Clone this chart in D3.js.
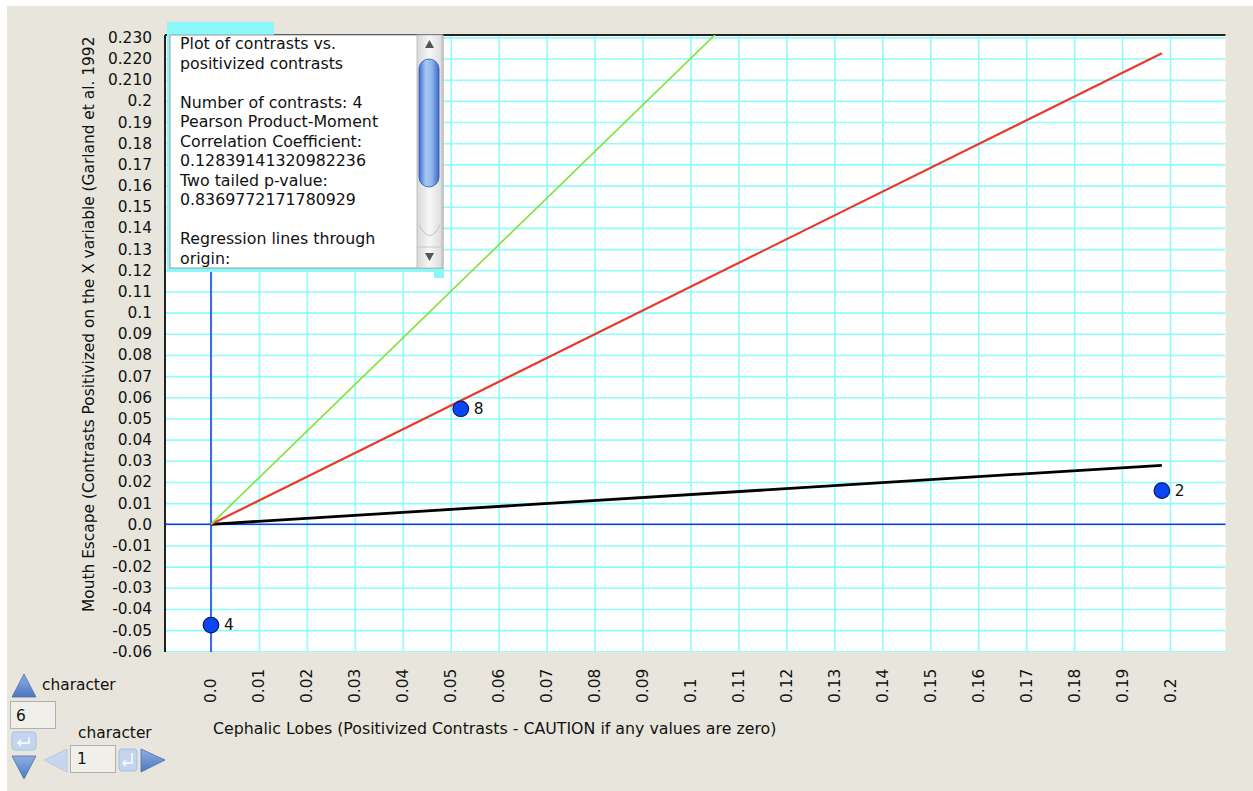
<!DOCTYPE html>
<html>
<head>
<meta charset="utf-8">
<script src="https://cdn.jsdelivr.net/npm/d3@7"></script>
<style>
  html, body { margin: 0; padding: 0; background: #ffffff; }
  svg { display: block; }
  text { font-family: "DejaVu Sans", "Liberation Sans", sans-serif; fill: #111; }
</style>
</head>
<body>
<script>
// ---- data -------------------------------------------------------------
const xTickValues = [0, 0.01, 0.02, 0.03, 0.04, 0.05, 0.06, 0.07, 0.08, 0.09, 0.1,
                     0.11, 0.12, 0.13, 0.14, 0.15, 0.16, 0.17, 0.18, 0.19, 0.2];
const xTickLabels = ["0.0", "0.01", "0.02", "0.03", "0.04", "0.05", "0.06", "0.07", "0.08", "0.09", "0.1",
                     "0.11", "0.12", "0.13", "0.14", "0.15", "0.16", "0.17", "0.18", "0.19", "0.2"];
const yTickValues = [-0.06, -0.05, -0.04, -0.03, -0.02, -0.01, 0, 0.01, 0.02, 0.03, 0.04, 0.05,
                     0.06, 0.07, 0.08, 0.09, 0.1, 0.11, 0.12, 0.13, 0.14, 0.15, 0.16, 0.17,
                     0.18, 0.19, 0.2, 0.21, 0.22, 0.23];
const yTickLabels = ["-0.06", "-0.05", "-0.04", "-0.03", "-0.02", "-0.01", "0.0", "0.01", "0.02", "0.03", "0.04", "0.05",
                     "0.06", "0.07", "0.08", "0.09", "0.1", "0.11", "0.12", "0.13", "0.14", "0.15", "0.16", "0.17",
                     "0.18", "0.19", "0.2", "0.210", "0.220", "0.230"];

// positivized contrasts (x) vs contrasts (y), labelled by node
const pointX = [0, 0.0521, 0.1983];
const pointY = [-0.0476, 0.0545, 0.0159];
const pointLabels = ["4", "8", "2"];

// regression lines through the origin
const lineSlopes = [0.1406, 1.122, 2.2];
const lineColors = ["#000000", "#e8392c", "#7fe33a"];
const lineWidths = [2.8, 2.2, 1.6];
const lineEndX = 0.1983;

const xTitle = "Cephalic Lobes (Positivized Contrasts - CAUTION if any values are zero)";
const yTitle = "Mouth Escape (Contrasts Positivized on the X variable (Garland et al. 1992)";

const infoLines = [
  "Plot of contrasts vs.",
  "positivized contrasts",
  "",
  "Number of contrasts: 4",
  "Pearson Product-Moment",
  "Correlation Coefficient:",
  "0.12839141320982236",
  "Two tailed p-value:",
  "0.8369772171780929",
  "",
  "Regression lines through",
  "origin:",
  "   Black is ordinary least squares"
];

// ---- layout -------------------------------------------------------------
const W = 1253, H = 791;
const plot = { left: 165, right: 1225.5, top: 35, bottom: 652 };
const FS_TICK = 15.4, FS_TEXT = 15.8;

const svg = d3.select("body").append("svg").attr("width", W).attr("height", H);

// window background
svg.append("rect").attr("x", 0).attr("y", 0).attr("width", W).attr("height", H).attr("fill", "#ffffff");
svg.append("rect").attr("x", 7).attr("y", 6).attr("width", W - 7).attr("height", H - 6).attr("fill", "#e8e6dc");

const x = d3.scaleLinear().domain([-0.00959, 0.21157]).range([plot.left, plot.right]);
const y = d3.scaleLinear().domain([-0.06032, 0.23113]).range([plot.bottom, plot.top]);

const defs = svg.append("defs");
defs.append("clipPath").attr("id", "plotClip")
  .append("rect").attr("x", plot.left).attr("y", plot.top)
  .attr("width", plot.right - plot.left).attr("height", plot.bottom - plot.top);

// plot background
svg.append("rect").attr("x", plot.left).attr("y", plot.top)
  .attr("width", plot.right - plot.left).attr("height", plot.bottom - plot.top)
  .attr("fill", "#ffffff");

// grid
const grid = svg.append("g").attr("clip-path", "url(#plotClip)");
grid.append("g")
  .attr("transform", `translate(0,${plot.top})`)
  .call(d3.axisBottom(x).tickValues(xTickValues).tickSize(plot.bottom - plot.top).tickFormat(""))
  .call(g => g.select(".domain").remove())
  .call(g => g.selectAll("line").attr("stroke", "#8ffcfc").attr("stroke-width", 1.6));
grid.append("g")
  .attr("transform", `translate(${plot.left},0)`)
  .call(d3.axisRight(y).tickValues(yTickValues).tickSize(plot.right - plot.left).tickFormat(""))
  .call(g => g.select(".domain").remove())
  .call(g => g.selectAll("line").attr("stroke", "#8ffcfc").attr("stroke-width", 1.6));

// zero axes in blue
svg.append("line").attr("x1", plot.left).attr("x2", plot.right)
  .attr("y1", y(0)).attr("y2", y(0)).attr("stroke", "#1638e8").attr("stroke-width", 1.5);
svg.append("line").attr("x1", x(0)).attr("x2", x(0))
  .attr("y1", plot.top).attr("y2", plot.bottom).attr("stroke", "#1638e8").attr("stroke-width", 1.5);

// frame: left and top edges
svg.append("line").attr("x1", plot.left).attr("x2", plot.left)
  .attr("y1", plot.top).attr("y2", plot.bottom).attr("stroke", "#222").attr("stroke-width", 2);
svg.append("line").attr("x1", plot.left).attr("x2", plot.right)
  .attr("y1", plot.top).attr("y2", plot.top).attr("stroke", "#222").attr("stroke-width", 2);

// y axis labels
svg.append("g")
  .attr("transform", `translate(${plot.left},0)`)
  .call(d3.axisLeft(y).tickValues(yTickValues).tickSize(0).tickPadding(13)
    .tickFormat((d, i) => yTickLabels[i]))
  .call(g => g.select(".domain").remove())
  .call(g => g.selectAll("text").attr("font-size", FS_TICK).attr("font-family", "DejaVu Sans").attr("fill", "#111"));

// x axis labels, rotated
svg.append("g")
  .attr("transform", `translate(0,${plot.bottom})`)
  .call(d3.axisBottom(x).tickValues(xTickValues).tickSize(0).tickFormat((d, i) => xTickLabels[i]))
  .call(g => g.select(".domain").remove())
  .call(g => g.selectAll("text")
    .attr("font-size", FS_TICK).attr("font-family", "DejaVu Sans").attr("fill", "#111")
    .attr("text-anchor", "start")
    .attr("y", 0).attr("dy", 0)
    .attr("transform", "translate(5,51) rotate(-90)"));

// regression lines
const lines = svg.append("g").attr("clip-path", "url(#plotClip)");
lineSlopes.forEach((s, i) => {
  lines.append("line")
    .attr("x1", x(0)).attr("y1", y(0))
    .attr("x2", x(lineEndX)).attr("y2", y(s * lineEndX))
    .attr("stroke", lineColors[i]).attr("stroke-width", lineWidths[i]);
});

// points
const pts = svg.append("g");
pointX.forEach((px, i) => {
  pts.append("circle").attr("cx", x(px)).attr("cy", y(pointY[i])).attr("r", 7.8)
    .attr("fill", "#0a46f5").attr("stroke", "#0b1a5a").attr("stroke-width", 1.2);
  pts.append("text").attr("x", x(px) + 13).attr("y", y(pointY[i]) + 5)
    .attr("font-size", FS_TICK).text(pointLabels[i]);
});

// axis titles
svg.append("text").attr("x", 213).attr("y", 734).attr("font-size", FS_TEXT).text(xTitle);
defs.append("clipPath").attr("id", "yTitleClip")
  .append("rect").attr("x", 60).attr("y", plot.top).attr("width", 50).attr("height", 700);
svg.append("g").attr("clip-path", "url(#yTitleClip)")
  .append("text").attr("transform", "translate(94,612) rotate(-90)").attr("font-size", 15.4).text(yTitle);

// ---- information panel --------------------------------------------------
const box = { x: 170, y: 35, w: 273, h: 233 };
svg.append("rect").attr("x", 167).attr("y", 22).attr("width", 107).attr("height", 14).attr("fill", "#8af8f8");
svg.append("rect").attr("x", 167).attr("y", 22).attr("width", 3).attr("height", 250).attr("fill", "#8af8f8");
svg.append("rect").attr("x", 167).attr("y", 268).attr("width", 276).attr("height", 4).attr("fill", "#8af8f8");
svg.append("rect").attr("x", 434).attr("y", 268).attr("width", 10).attr("height", 10).attr("fill", "#8af8f8");
svg.append("rect").attr("x", box.x).attr("y", box.y).attr("width", box.w).attr("height", box.h)
  .attr("fill", "#ffffff").attr("stroke", "#9a9a9a").attr("stroke-width", 1);

defs.append("clipPath").attr("id", "boxClip")
  .append("rect").attr("x", box.x).attr("y", box.y + 1).attr("width", 246).attr("height", box.h - 2);
const tg = svg.append("g").attr("clip-path", "url(#boxClip)");
infoLines.forEach((t, i) => {
  tg.append("text").attr("x", 180).attr("y", 49 + i * 19.5).attr("font-size", FS_TEXT)
    .attr("xml:space", "preserve").text(t);
});

// scrollbar
const sbGrad = defs.append("linearGradient").attr("id", "sbTrack").attr("x1", 0).attr("x2", 1);
sbGrad.append("stop").attr("offset", 0).attr("stop-color", "#d8d8d8");
sbGrad.append("stop").attr("offset", 0.5).attr("stop-color", "#f7f7f7");
sbGrad.append("stop").attr("offset", 1).attr("stop-color", "#dcdcdc");
const thGrad = defs.append("linearGradient").attr("id", "sbThumb").attr("x1", 0).attr("x2", 1);
thGrad.append("stop").attr("offset", 0).attr("stop-color", "#3c6fd0");
thGrad.append("stop").attr("offset", 0.35).attr("stop-color", "#a9c8f2");
thGrad.append("stop").attr("offset", 0.65).attr("stop-color", "#8db4ec");
thGrad.append("stop").attr("offset", 1).attr("stop-color", "#3a68c8");
svg.append("rect").attr("x", 417).attr("y", 35).attr("width", 25).attr("height", 233)
  .attr("fill", "url(#sbTrack)").attr("stroke", "#b5b5b5").attr("stroke-width", 0.8);
svg.append("path").attr("d", "M429.5,40 L434,48 L425,48 Z").attr("fill", "#555");
svg.append("path").attr("d", "M429.5,261 L434,253 L425,253 Z").attr("fill", "#555");
svg.append("rect").attr("x", 419).attr("y", 59).attr("width", 20).attr("height", 128).attr("rx", 10)
  .attr("fill", "url(#sbThumb)").attr("stroke", "#2a55b0").attr("stroke-width", 0.8);
svg.append("path").attr("d", "M419,225 Q429.5,246 440,225").attr("fill", "none").attr("stroke", "#c2c2c2").attr("stroke-width", 1);
svg.append("line").attr("x1", 417).attr("x2", 442).attr("y1", 247).attr("y2", 247).attr("stroke", "#c8c8c8");

// ---- navigation controls -----------------------------------------------
const btnGrad = defs.append("linearGradient").attr("id", "btnBlue").attr("x1", 0).attr("x2", 0).attr("y1", 0).attr("y2", 1);
btnGrad.append("stop").attr("offset", 0).attr("stop-color", "#8eb0e0");
btnGrad.append("stop").attr("offset", 1).attr("stop-color", "#4c78bf");
const ctl = svg.append("g");
ctl.append("path").attr("d", "M24,674 L36,697 L12,697 Z").attr("fill", "url(#btnBlue)").attr("stroke", "#4a6fae").attr("stroke-width", 0.8);
ctl.append("text").attr("x", 42).attr("y", 690).attr("font-size", FS_TICK).text("character");
ctl.append("rect").attr("x", 10.5).attr("y", 701.5).attr("width", 45).attr("height", 27).attr("fill", "#f0efea").attr("stroke", "#b0b0b0");
ctl.append("text").attr("x", 16).attr("y", 721).attr("font-size", FS_TICK).text("6");
ctl.append("rect").attr("x", 12).attr("y", 732).attr("width", 24).attr("height", 18).attr("rx", 3).attr("fill", "#c3d4ee").attr("stroke", "#a9bede");
ctl.append("path").attr("d", "M29,737 L29,743 L18,743 M21,740 L18,743 L21,746").attr("fill", "none").attr("stroke", "#fff").attr("stroke-width", 1.4);
ctl.append("path").attr("d", "M12,756 L36,756 L24,779 Z").attr("fill", "url(#btnBlue)").attr("stroke", "#4a6fae").attr("stroke-width", 0.8);
ctl.append("text").attr("x", 78).attr("y", 738).attr("font-size", FS_TICK).text("character");
ctl.append("path").attr("d", "M44,760 L67,749 L67,772 Z").attr("fill", "#c6d6ee").attr("stroke", "#b2c4e2").attr("stroke-width", 0.8);
ctl.append("rect").attr("x", 70.5).attr("y", 745.5).attr("width", 45).attr("height", 27).attr("fill", "#f0efea").attr("stroke", "#b0b0b0");
ctl.append("text").attr("x", 77).attr("y", 764).attr("font-size", FS_TICK).text("1");
ctl.append("rect").attr("x", 119).attr("y", 749).attr("width", 18).attr("height", 22).attr("rx", 3).attr("fill", "#c3d4ee").attr("stroke", "#a9bede");
ctl.append("path").attr("d", "M132,753 L132,763 L123,763 M126,760 L123,763 L126,766").attr("fill", "none").attr("stroke", "#fff").attr("stroke-width", 1.4);
ctl.append("path").attr("d", "M141,749 L165,760 L141,772 Z").attr("fill", "url(#btnBlue)").attr("stroke", "#4a6fae").attr("stroke-width", 0.8);
</script>
</body>
</html>
